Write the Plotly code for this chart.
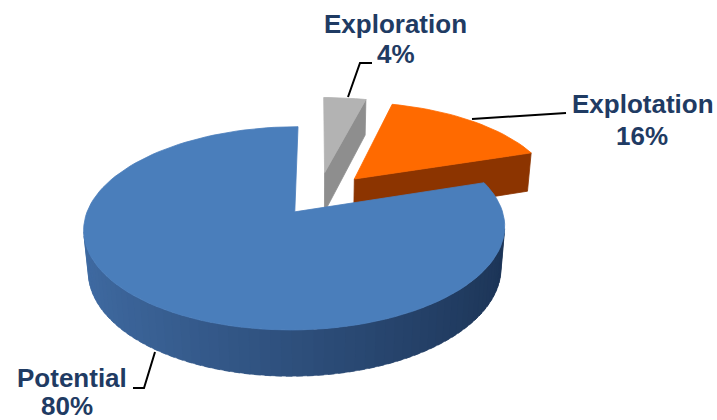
import numpy as np
import plotly.graph_objects as go

# ---- data ----
labels = ["Exploration", "Explotation", "Potential"]
values = [4, 16, 80]

# ---- style ----
top_colors = [(179, 179, 179), (255, 106, 0), (74, 126, 187)]
side_light = [(142, 142, 142), (140, 52, 0), (64, 107, 163)]
side_dark = [(142, 142, 142), (140, 52, 0), (28, 52, 86)]
explode = [0.27, 0.27, 0.19]
text_color = "#1F3B63"

W, H = 717, 420
OX, OY = 318, 197
F = 1135.0
D = 5.6
PHI = np.radians(27.7)
CP, SP = np.cos(PHI), np.sin(PHI)
DEPTH = 0.23
CAM = np.array([0.0, -D * CP, D * SP])


def proj(X, Y, Z):
    d = D + CP * Y - SP * Z
    u = SP * Y + CP * Z
    return OX + F * X / d, OY - F * u / d


def rgb(c):
    return "rgb(%d,%d,%d)" % tuple(int(round(v)) for v in c)


def mix(a, b, t):
    return tuple(a[i] * t + b[i] * (1 - t) for i in range(3))


fig = go.Figure()


def add_poly(pts3d, color, lw=0.8):
    xs, ys = [], []
    for p in pts3d:
        x, y = proj(*p)
        xs.append(x)
        ys.append(y)
    xs.append(xs[0])
    ys.append(ys[0])
    fig.add_trace(go.Scatter(x=xs, y=ys, mode="lines", fill="toself",
                             fillcolor=rgb(color),
                             line=dict(color=rgb(color), width=lw),
                             hoverinfo="skip", showlegend=False))


def visible(normal, point, thr=0.03):
    v = CAM - np.array(point)
    return np.dot(normal, v) / np.linalg.norm(v) > thr


total = float(sum(values))
cum = 0.0
slices = []
for i, v in enumerate(values):
    a0 = 90 - 360 * cum / total
    a1 = a0 - 360 * v / total
    cum += v
    mid = np.radians((a0 + a1) / 2)
    cx, cy = explode[i] * np.cos(mid), explode[i] * np.sin(mid)
    slices.append((i, a0, a1, cx, cy))

# painter order: farthest centre first
slices.sort(key=lambda s: -s[4])

for (i, a0, a1, cx, cy) in slices:
    n = max(8, int(abs(a0 - a1) / 2.5))
    ts = np.radians(np.linspace(a0, a1, n + 1))
    step = ts[1] - ts[0]
    # radial faces
    r0 = np.radians(a0)
    r1 = np.radians(a1)
    for ang, nrm in ((r0, np.array([-np.sin(r0), np.cos(r0), 0])),
                     (r1, np.array([np.sin(r1), -np.cos(r1), 0]))):
        px, py = cx + np.cos(ang), cy + np.sin(ang)
        mpt = ((cx + px) / 2, (cy + py) / 2, -DEPTH / 2)
        if visible(nrm, mpt):
            add_poly([(cx, cy, 0), (px, py, 0), (px, py, -DEPTH), (cx, cy, -DEPTH)],
                     side_light[i])
    # curved side (segments overlap slightly to hide seams)
    for k in range(n):
        t0 = ts[k]
        t1 = ts[k + 1] + (0.6 * step if k < n - 1 else 0)
        tm = (ts[k] + ts[k + 1]) / 2
        nrm = np.array([np.cos(tm), np.sin(tm), 0])
        mpt = (cx + np.cos(tm), cy + np.sin(tm), -DEPTH / 2)
        if visible(nrm, mpt, 0.0):
            t = (1 - np.cos(tm)) / 2
            col = mix(side_light[i], side_dark[i], t)
            add_poly([(cx + np.cos(t0), cy + np.sin(t0), 0),
                      (cx + np.cos(t1), cy + np.sin(t1), 0),
                      (cx + np.cos(t1), cy + np.sin(t1), -DEPTH),
                      (cx + np.cos(t0), cy + np.sin(t0), -DEPTH)], col, lw=0.5)
    # top face
    pts = [(cx, cy, 0)] + [(cx + np.cos(t), cy + np.sin(t), 0) for t in ts]
    add_poly(pts, top_colors[i])

# ---- labels ----
pct = [v / total * 100 for v in values]
name_pos = [(395, 24), (643, 104), (72, 378)]
pct_pos = [(396, 54), (642, 136), (67, 406)]
font = dict(family="Liberation Sans, Arial", size=26, color=text_color)
for i in range(len(labels)):
    fig.add_annotation(x=name_pos[i][0], y=name_pos[i][1],
                       text="<b>%s</b>" % labels[i],
                       showarrow=False, xanchor="center", yanchor="middle", font=font)
    fig.add_annotation(x=pct_pos[i][0], y=pct_pos[i][1],
                       text="<b>%d%%</b>" % round(pct[i]),
                       showarrow=False, xanchor="center", yanchor="middle", font=font)

leaders = [
    "M 348 97 L 360 63 L 372 63",
    "M 472 119 L 566 113",
    "M 155 352 L 144 388 L 133 388",
]
for p in leaders:
    fig.add_shape(type="path", path=p, xref="x", yref="y",
                  line=dict(color="black", width=2))

fig.update_xaxes(range=[0, W], visible=False, fixedrange=True)
fig.update_yaxes(range=[H, 0], visible=False, fixedrange=True)
fig.update_layout(width=W, height=H, margin=dict(l=0, r=0, t=0, b=0),
                  plot_bgcolor="white", paper_bgcolor="white", showlegend=False)
fig.write_html("out.html")
